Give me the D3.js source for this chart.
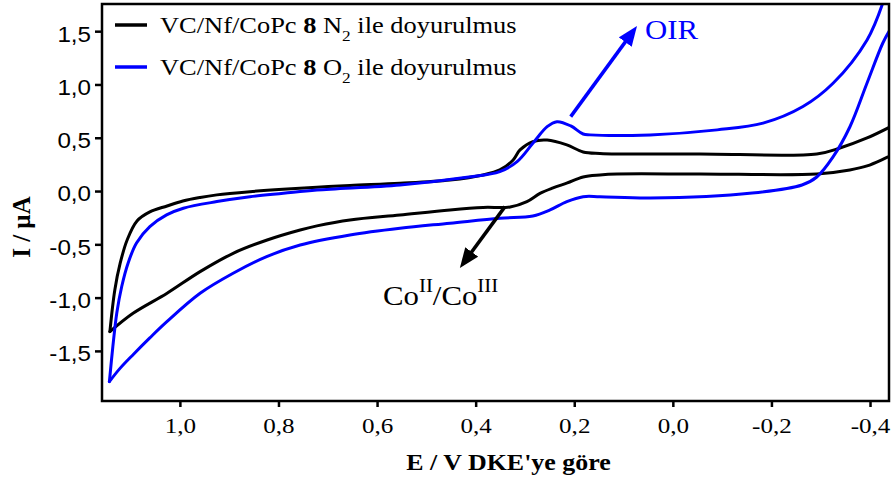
<!DOCTYPE html>
<html>
<head>
<meta charset="utf-8">
<script src="https://cdn.jsdelivr.net/npm/d3@7"></script>
<style>
  html, body { margin: 0; padding: 0; background: #fff; }
  svg { display: block; }
</style>
</head>
<body>
<svg id="chart" width="893" height="480"></svg>
<script>
// Axis ticks: potential (V vs DKE) and current (µA)
const xTickValues = [1.0, 0.8, 0.6, 0.4, 0.2, 0.0, -0.2, -0.4];
const yTickValues = [1.5, 1.0, 0.5, 0.0, -0.5, -1.0, -1.5];

// N2-saturated voltammogram: upper branch (right to left), then lower branch (left to right)
const n2E = [-0.4405, -0.394, -0.339, -0.292, -0.055, 0.113, 0.148, 0.182, 0.215, 0.255, 0.284, 0.310, 0.324, 0.351, 0.385, 0.452, 0.5535, 0.655, 0.722, 0.791, 0.858, 0.925, 0.959, 0.994, 1.026, 1.061, 1.087, 1.107, 1.121, 1.132, 1.142,
             1.095, 1.026, 0.959, 0.892, 0.823, 0.756, 0.722, 0.655, 0.5535, 0.452, 0.385, 0.330, 0.296, 0.2695, 0.243, 0.214, 0.182, 0.148, 0.113, -0.055, -0.292, -0.359, -0.394, -0.4405];
const n2I = [0.601, 0.498, 0.404, 0.348, 0.348, 0.348, 0.353, 0.367, 0.433, 0.479, 0.464, 0.386, 0.292, 0.198, 0.151, 0.104, 0.073, 0.053, 0.036, 0.017, -0.006, -0.036, -0.060, -0.093, -0.140, -0.196, -0.281, -0.459, -0.675, -0.928, -1.319,
             -1.147, -0.959, -0.756, -0.584, -0.459, -0.365, -0.327, -0.271, -0.224, -0.177, -0.154, -0.149, -0.099, -0.0225, 0.029, 0.076, 0.132, 0.151, 0.160, 0.160, 0.160, 0.198, 0.236, 0.329];

// O2-saturated voltammogram: upper branch (right to left), then lower branch (left to right)
const o2E = [-0.426, -0.394, -0.325, -0.264, -0.183, -0.090, 0.046, 0.168, 0.182, 0.207, 0.235, 0.255, 0.284, 0.316, 0.351, 0.4175, 0.5535, 0.722, 0.790, 0.858, 0.925, 0.993, 1.027, 1.061, 1.088, 1.105, 1.118, 1.128, 1.136, 1.143,
             1.1215, 1.0945, 1.061, 1.027, 0.959, 0.892, 0.824, 0.756, 0.655, 0.5535, 0.452, 0.351, 0.284, 0.249, 0.215, 0.182, 0.148, 0.046, -0.161, -0.262, -0.292, -0.325, -0.359, -0.394, -0.426, -0.4405];
const o2I = [1.765, 1.418, 1.011, 0.793, 0.637, 0.574, 0.527, 0.527, 0.535, 0.611, 0.651, 0.604, 0.448, 0.276, 0.182, 0.129, 0.057, 0.010, -0.021, -0.053, -0.099, -0.161, -0.224, -0.334, -0.487, -0.675, -0.896, -1.144, -1.460, -1.788,
             -1.664, -1.533, -1.378, -1.228, -0.959, -0.771, -0.615, -0.506, -0.412, -0.349, -0.302, -0.255, -0.234, -0.177, -0.099, -0.053, -0.053, -0.065, -0.018, 0.057, 0.132, 0.320, 0.601, 1.014, 1.389, 1.512];

const seriesNames = ["N2", "O2"];
const seriesColors = ["#000000", "#0000ff"];

const svg = d3.select("#chart");
const plot = { left: 102, right: 889, top: 4, bottom: 401 };

const x = d3.scaleLinear().domain([1.158, -0.4385]).range([plot.left, plot.right]);
const y = d3.scaleLinear().domain([-1.97, 1.755]).range([plot.bottom, plot.top]);

const commaFmt = d3.formatLocale({ decimal: ",", thousands: ".", grouping: [3], currency: ["", ""], minus: "-" }).format(".1f");

// Bottom axis
const gx = svg.append("g")
  .attr("transform", `translate(0,${plot.bottom})`)
  .call(d3.axisBottom(x).tickValues(xTickValues).tickSize(6).tickPadding(6).tickFormat(commaFmt));
gx.select(".domain").remove();
gx.selectAll(".tick line").attr("stroke", "#000").attr("stroke-width", 2.5);
gx.selectAll(".tick text")
  .attr("font-family", "'Liberation Serif', 'Times New Roman', serif")
  .attr("font-size", 22)
  .attr("fill", "#000")
  .attr("dy", "0.9em")
  .attr("transform", "scale(1.14,1)");

// Left axis
const gy = svg.append("g")
  .attr("transform", `translate(${plot.left},0)`)
  .call(d3.axisLeft(y).tickValues(yTickValues).tickSize(7).tickPadding(3).tickFormat(commaFmt));
gy.select(".domain").remove();
gy.selectAll(".tick line").attr("stroke", "#000").attr("stroke-width", 2.5);
gy.selectAll(".tick text")
  .attr("font-family", "'Liberation Sans', Arial, sans-serif")
  .attr("font-size", 22)
  .attr("fill", "#000")
  .attr("dy", "0.45em")
  .attr("transform", "scale(1.1,1)");

// Curves, clipped to the frame; each scan is split at its anodic switching point
svg.append("clipPath").attr("id", "plotClip")
  .append("rect")
  .attr("x", plot.left).attr("y", plot.top)
  .attr("width", plot.right - plot.left).attr("height", plot.bottom - plot.top);

const line = d3.line()
  .x(d => x(d[0]))
  .y(d => y(d[1]))
  .curve(d3.curveCatmullRom.alpha(0.5));

const scans = [[n2E, n2I], [o2E, o2I]];
const branches = [];
scans.forEach(([E, I], i) => {
  const pts = d3.zip(E, I);
  const k = d3.maxIndex(E);
  branches.push({ color: seriesColors[i], pts: pts.slice(0, k + 1) });
  branches.push({ color: seriesColors[i], pts: pts.slice(k) });
});

svg.append("g").attr("clip-path", "url(#plotClip)")
  .selectAll("path")
  .data(branches)
  .join("path")
  .attr("d", d => line(d.pts))
  .attr("fill", "none")
  .attr("stroke", d => d.color)
  .attr("stroke-width", 3)
  .attr("stroke-linecap", "round")
  .attr("stroke-linejoin", "round");

// Frame
svg.append("rect")
  .attr("x", plot.left).attr("y", plot.top)
  .attr("width", plot.right - plot.left).attr("height", plot.bottom - plot.top)
  .attr("fill", "none").attr("stroke", "#000").attr("stroke-width", 2.5);

// Legend
const serif = "'Liberation Serif', 'Times New Roman', serif";
const legend = svg.append("g");
seriesNames.forEach((name, i) => {
  const cy = 25 + i * 42;
  legend.append("line")
    .attr("x1", 115).attr("x2", 147).attr("y1", cy).attr("y2", cy)
    .attr("stroke", seriesColors[i]).attr("stroke-width", 3.5);
  const t = legend.append("text")
    .attr("transform", `translate(160,${cy + 8}) scale(1.15,1)`)
    .attr("font-family", serif).attr("font-size", 23).attr("fill", "#000");
  t.append("tspan").text("VC/Nf/CoPc ");
  t.append("tspan").attr("font-weight", "bold").text("8");
  t.append("tspan").text(" " + name.charAt(0));
  t.append("tspan").attr("font-size", 15).attr("dy", 8).text(name.slice(1));
  t.append("tspan").attr("dy", -8).text(" ile doyurulmus");
});

// Arrow heads
const defs = svg.append("defs");
function arrowMarker(id, color) {
  defs.append("marker")
    .attr("id", id)
    .attr("markerUnits", "userSpaceOnUse")
    .attr("viewBox", "0 0 20 16")
    .attr("markerWidth", 20).attr("markerHeight", 16)
    .attr("refX", 4).attr("refY", 8)
    .attr("orient", "auto")
    .append("path").attr("d", "M0,0 L20,8 L0,16 Z").attr("fill", color);
}
arrowMarker("headBlue", "#0000ff");
arrowMarker("headBlack", "#000000");

function arrow(from, to, color, marker) {
  const x1 = x(from[0]), y1 = y(from[1]), x2 = x(to[0]), y2 = y(to[1]);
  const len = Math.hypot(x2 - x1, y2 - y1);
  const k = (len - 16) / len;
  svg.append("line")
    .attr("x1", x1).attr("y1", y1)
    .attr("x2", x1 + (x2 - x1) * k).attr("y2", y1 + (y2 - y1) * k)
    .attr("stroke", color).attr("stroke-width", 3.5)
    .attr("marker-end", `url(#${marker})`);
}

// Oxygen reduction annotation
arrow([0.2072, 0.698], [0.0727, 1.549], "#0000ff", "headBlue");
svg.append("text")
  .attr("transform", `translate(${x(0.0565)},${y(1.427)}) scale(1.1,1)`)
  .attr("font-family", serif).attr("font-size", 28).attr("fill", "#0000ff")
  .text("OIR");

// Co(II)/Co(III) redox couple annotation
arrow([0.3405, -0.146], [0.432, -0.722], "#000000", "headBlack");
const co = svg.append("text")
  .attr("transform", `translate(${x(0.588)},${y(-1.069)}) scale(1.1,1)`)
  .attr("font-family", serif).attr("font-size", 28).attr("fill", "#000");
co.append("tspan").text("Co");
co.append("tspan").attr("font-size", 19).attr("dy", -13).text("II");
co.append("tspan").attr("dy", 13).text("/Co");
co.append("tspan").attr("font-size", 19).attr("dy", -13).text("III");

// Axis titles
svg.append("text")
  .attr("transform", `translate(${(plot.left + plot.right) / 2 + 13},470) scale(1.08,1)`)
  .attr("text-anchor", "middle")
  .attr("font-family", serif).attr("font-weight", "bold").attr("font-size", 24)
  .attr("fill", "#000")
  .text("E / V DKE'ye göre");

svg.append("text")
  .attr("transform", "translate(30,227) rotate(-90)")
  .attr("text-anchor", "middle")
  .attr("font-family", serif).attr("font-weight", "bold").attr("font-size", 25)
  .attr("fill", "#000")
  .text("I / µA");
</script>
</body>
</html>
